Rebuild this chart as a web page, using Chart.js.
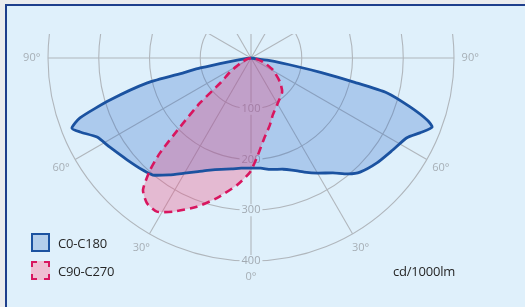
<!DOCTYPE html>
<html><head><meta charset="utf-8">
<script src="https://cdn.jsdelivr.net/npm/chart.js@4.4.0/dist/chart.umd.min.js"></script>
<style>
html,body{margin:0;padding:0;width:525px;height:307px;overflow:hidden;background:#ebecee;}
#frame{position:absolute;left:5px;top:4px;width:520px;height:303px;background:#dff0fb;border-left:2px solid #1f3f8c;border-top:2px solid #1f3f8c;box-sizing:border-box;}
#wrap{position:absolute;left:0;top:0;width:525px;height:307px;}
.txt{position:absolute;font-family:"Open Sans",sans-serif;font-size:13px;color:#262626;line-height:16px;white-space:nowrap;letter-spacing:-0.2px;}
.box{position:absolute;width:19px;height:19px;box-sizing:border-box;}
</style></head><body>
<div id="frame"></div>
<div id="wrap"><canvas id="c" width="525" height="307"></canvas></div>
<div class="box" style="left:31px;top:233px;border:2.6px solid #1b52a0;background:#b3ceeb;"></div>
<div class="txt" style="left:58px;top:235px;">C0-C180</div>
<div class="box" style="left:31px;top:261px;border:2.6px dashed #d8165f;background:#efbfd3;"></div>
<div class="txt" style="left:58px;top:263px;">C90-C270</div>
<div class="txt" style="left:393px;top:263px;">cd/1000lm</div>
<script>
// ---- data (gamma angle in degrees, negative = left half; intensity cd/1000lm) ----
const seriesNames = ["C0-C180", "C90-C270"];
const blueAngles = [-90,-85,-80.5,-78.9,-77.7,-76.5,-73.4,-70.7,-68.6,-66.6,-62.8,-57.7,-50.6,-44,-40,-35,-30,-25,-20,-15,-10,-5,0,
                    5,10,16,20,25,30,35.5,40,43.7,50.2,57,62.9,66.1,69.1,70.6,72.9,75.6,76.8,78.3,79.5,82,90];
const blueValues = [0,8,45,102,135,210,290,357,379,367,341,329,316,307,301,281,262,247,235,227,222,218,217,
                    218,223,228,235,248,262,278,298,311,323,333,345,364,382,368,328,277,210,140,92,35,0];
const pinkAngles = [-90,-75,-66,-60,-56.3,-51,-48.6,-45.8,-43.8,-42,-39.3,-35.6,-31.5,-27,-20,-13.7,-6.3,-0.5,
                    4,9,15.8,21,31,42.4,50.4,61.4,71.6,80,90];
const pinkValues = [0,8,19,33,50,76,134,195,259,297,336,352,355,340,312,284,252,225,
                    192,162,137,120,103,91,74,49,25,10,0];
const ringValues = [100, 200, 300, 400];
const ringLabels = ["100", "200", "300", "400"];
const angleTicks = [-90, -60, -30, 0, 30, 60, 90];
const angleTickLabels = ["90°", "60°", "30°", "0°", "30°", "60°", "90°"];

// ---- layout ----
const W = 525, H = 307, CX = 251, CY = 58, TOP = 34, K = 203 / 400;
const RMAX = 400, LABEL_R = 432;

function toXY(angles, values) {
  return angles.map((a, i) => {
    const t = a * Math.PI / 180;
    return { x: values[i] * Math.sin(t), y: -values[i] * Math.cos(t) };
  });
}

const polarGrid = {
  id: 'polarGrid',
  beforeDraw(chart) {
    const ctx = chart.ctx, xs = chart.scales.x, ys = chart.scales.y, area = chart.chartArea;
    const P = (r, a) => {
      const t = a * Math.PI / 180;
      return [xs.getPixelForValue(r * Math.sin(t)), ys.getPixelForValue(-r * Math.cos(t))];
    };
    const cx = xs.getPixelForValue(0), cy = ys.getPixelForValue(0);
    ctx.save();
    ctx.beginPath();
    ctx.rect(area.left, area.top, area.right - area.left, area.bottom - area.top);
    ctx.clip();
    ctx.strokeStyle = '#b0b6bc';
    ctx.lineWidth = 1.1;
    ringValues.forEach(r => {
      const rp = xs.getPixelForValue(r) - cx;
      ctx.beginPath();
      ctx.arc(cx, cy, rp, 0, Math.PI * 2);
      ctx.stroke();
    });
    for (let a = 0; a < 360; a += 30) {
      const [x, y] = P(RMAX, a);
      ctx.beginPath();
      ctx.moveTo(cx, cy);
      ctx.lineTo(x, y);
      ctx.stroke();
    }
    ctx.restore();

    ctx.save();
    ctx.font = '11px "Open Sans", sans-serif';
    ctx.textAlign = 'center';
    ctx.textBaseline = 'middle';
    ringValues.forEach((r, i) => {
      const [x, y] = P(r, 0);
      const w = ctx.measureText(ringLabels[i]).width + 4;
      ctx.fillStyle = '#dff0fb';
      ctx.fillRect(x - w / 2, y - 6, w, 12);
      ctx.fillStyle = '#a2aab2';
      ctx.fillText(ringLabels[i], x, y);
    });
    angleTicks.forEach((a, i) => {
      const [x, y] = P(LABEL_R, a);
      ctx.fillStyle = '#a7afb6';
      ctx.fillText(angleTickLabels[i], x, y);
    });
    ctx.restore();
  }
};

new Chart(document.getElementById('c'), {
  type: 'scatter',
  data: {
    datasets: [
      {
        label: seriesNames[0],
        data: toXY(blueAngles, blueValues),
        showLine: true,
        fill: 'shape',
        borderColor: '#1b52a0',
        backgroundColor: 'rgba(40,105,200,0.28)',
        borderWidth: 2.8,
        pointRadius: 0,
        tension: 0.2,
        order: 1
      },
      {
        label: seriesNames[1],
        data: toXY(pinkAngles, pinkValues),
        showLine: true,
        fill: 'shape',
        borderColor: '#d8165f',
        backgroundColor: 'rgba(240,70,125,0.32)',
        borderWidth: 2.6,
        borderDash: [8, 5],
        pointRadius: 0,
        tension: 0.2,
        order: 0
      }
    ]
  },
  options: {
    responsive: false,
    devicePixelRatio: 1,
    animation: false,
    layout: { padding: { top: TOP, left: 0, right: 0, bottom: 0 } },
    scales: {
      x: { type: 'linear', display: false, min: -CX / K, max: (W - CX) / K },
      y: { type: 'linear', display: false, min: -(H - CY) / K, max: (CY - TOP) / K }
    },
    plugins: {
      legend: { display: false },
      tooltip: { enabled: false },
      filler: { drawTime: 'beforeDatasetsDraw' }
    }
  },
  plugins: [polarGrid]
});
</script>
</body></html>
